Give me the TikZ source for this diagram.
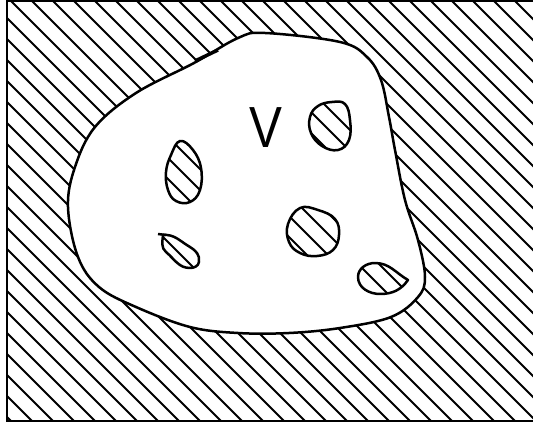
\documentclass[tikz,border=0pt]{standalone}
\usepackage{fontspec}
\setsansfont{Liberation Sans}
\usetikzlibrary{calc}

\newcommand{\hatchfill}{%
  \foreach \i in {-462,-441,...,540}
    \draw[hatch] (\i,-10) -- ++(450,450);}
\newcommand{\hole}[1]{%
  \begin{scope}
    \clip #1;
    \hatchfill
  \end{scope}
  \draw[outline] #1;}

\begin{document}
\begin{tikzpicture}[x=1pt, y=-1pt,
  hatch/.style={line width=1.8pt},
  outline/.style={line width=2.5pt, line join=round},
  vlabel/.style={font=\fontsize{58}{58}\selectfont\sffamily, inner sep=0pt}
]
  \useasboundingbox (0,0) rectangle (533,425);

  % hatched ground
  \begin{scope}
    \clip (7,1) rectangle (534,421);
    \hatchfill
  \end{scope}
  \draw[line width=2pt] (7,1) rectangle (534,421);

  % region V
  \filldraw[outline, fill=white] plot[smooth cycle, tension=0.6] coordinates {
    (265,33) (340,42) (367,57) (381,80) (389,117) (395,150) (405,200)
    (418,240) (425,277) (418,297) (391,317) (340,328) (289,333) (238,333)
    (190,327) (136,307) (99,287) (78,257) (68,207) (75,167) (95,127)
    (136,93) (194,63) (238,38)};
  \draw[line width=3.5pt] (195,61) -- (218,50);

  \node[vlabel] (v) at (266,128) {\scalebox{0.85}[1]{V}};

  % holes
  \hole{plot[smooth cycle, tension=0.7] coordinates {
    (345,104) (350,120) (349,140) (338,150) (322,146) (311,133) (310,117)
    (318,106) (332,102)}}
  \hole{plot[smooth cycle, tension=0.7] coordinates {
    (180,141) (193,150) (201,168) (200,190) (190,202) (176,201) (168,190)
    (166,172) (171,155)}}
  \hole{plot[smooth cycle, tension=0.7] coordinates {
    (300,208) (318,210) (335,219) (339,235) (333,250) (317,256) (300,253)
    (289,242) (288,224)}}
  \hole{(163,235) to[out=5,in=150] (190,247) to[out=-30,in=80] (199,262)
    to[out=-100,in=0] (190,268) to[out=180,in=-40] (166,252)
    to[out=140,in=-95] (163,235) -- cycle}
  \draw[outline] (158,234) -- (166,235);
  \hole{(408,280) to[out=150,in=0] (375,263) to[out=180,in=90] (358,277)
    to[out=-90,in=180] (380,294) to[out=0,in=-125] (408,280) -- cycle}
\end{tikzpicture}
\end{document}
